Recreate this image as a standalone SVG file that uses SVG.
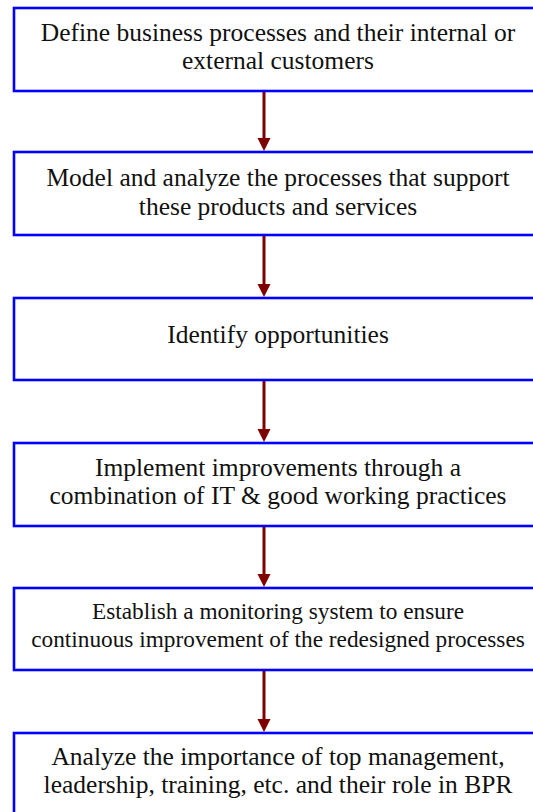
<svg xmlns="http://www.w3.org/2000/svg" width="533" height="812" viewBox="0 0 533 812">
<style>
.box{fill:#fff;stroke:#0000ff;stroke-width:2.6}
.t{font-family:"Liberation Serif","Times New Roman",serif;font-size:25.5px;fill:#111;text-anchor:middle}
.s{font-size:23.3px}
.c{stroke:#7f0000;stroke-width:3;fill:none}
.h{fill:#7f0000}
</style>
<rect width="533" height="812" fill="#fff"/>
<g id="n1"><rect class="box" x="14" y="8" width="530" height="83"/><text class="t" x="278" y="41">Define business processes and their internal or</text><text class="t" x="278" y="69">external customers</text></g>
<g id="n2"><rect class="box" x="14" y="152" width="530" height="83"/><text class="t" x="278" y="186">Model and analyze the processes that support</text><text class="t" x="278" y="215">these products and services</text></g>
<g id="n3"><rect class="box" x="14" y="298" width="530" height="82"/><text class="t" x="278" y="343">Identify opportunities</text></g>
<g id="n4"><rect class="box" x="14" y="443" width="530" height="83"/><text class="t" x="278" y="476">Implement improvements through a</text><text class="t" x="278" y="504">combination of IT &amp; good working practices</text></g>
<g id="n5"><rect class="box" x="14" y="588" width="530" height="82"/><text class="t s" x="278" y="619">Establish a monitoring system to ensure</text><text class="t s" x="278" y="647">continuous improvement of the redesigned processes</text></g>
<g id="n6"><rect class="box" x="14" y="733" width="530" height="90"/><text class="t" x="278" y="765">Analyze the importance of top management,</text><text class="t" x="278" y="793">leadership, training, etc. and their role in BPR</text></g>
<g id="connectors">
<line class="c" x1="264" y1="92" x2="264" y2="140"/><polygon class="h" points="257.5,138 270.5,138 264,151"/>
<line class="c" x1="264" y1="236" x2="264" y2="286"/><polygon class="h" points="257.5,284 270.5,284 264,297"/>
<line class="c" x1="264" y1="381" x2="264" y2="431"/><polygon class="h" points="257.5,429 270.5,429 264,442"/>
<line class="c" x1="264" y1="527" x2="264" y2="576"/><polygon class="h" points="257.5,574 270.5,574 264,587"/>
<line class="c" x1="264" y1="671" x2="264" y2="721"/><polygon class="h" points="257.5,719 270.5,719 264,732"/>
</g>
</svg>
